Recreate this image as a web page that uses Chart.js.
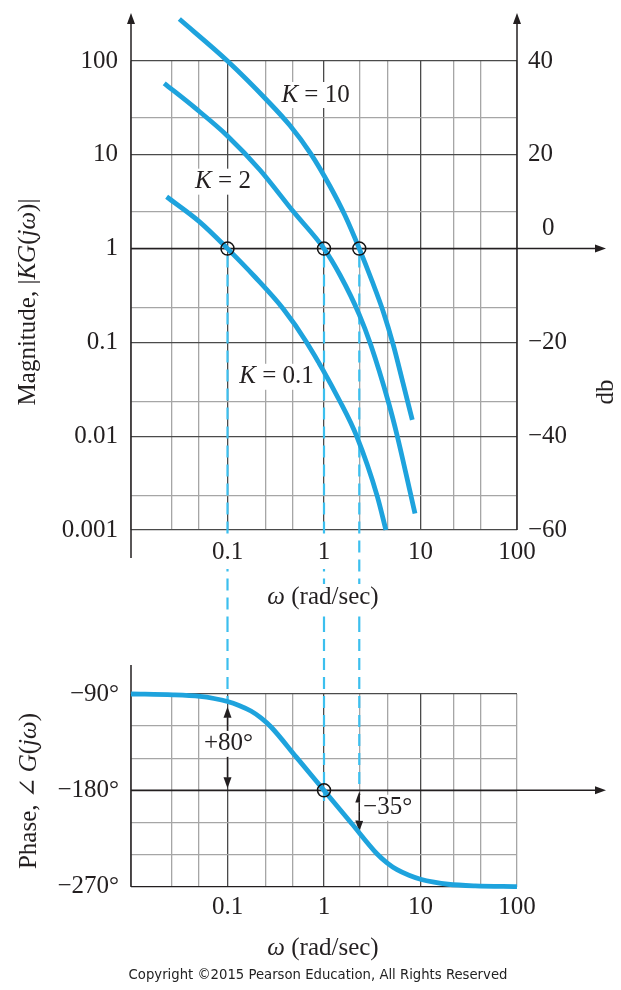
<!DOCTYPE html>
<html>
<head>
<meta charset="utf-8">
<title>Bode plot of KG(jω)</title>
<script src="https://cdn.jsdelivr.net/npm/chart.js@4.4.1/dist/chart.umd.min.js"></script>
<style>
  html, body { margin: 0; padding: 0; background: #fff; }
  #wrap { position: relative; width: 621px; height: 990px; overflow: hidden; }
  canvas { position: absolute; left: 0; }
  #mag { top: 0; }
  #phase { top: 620px; }
</style>
</head>
<body>
<div id="wrap">
  <canvas id="mag" width="621" height="620"></canvas>
  <canvas id="phase" width="621" height="370"></canvas>
</div>
<script>
// ω grid (rad/sec) - where the vertical rules sit in the figure
const wGrid = [0.01, 0.0264, 0.0507, 0.1, 0.249, 0.474, 1, 2.32, 4.53, 10, 22.2, 42, 100];
const wMajor = [0.1, 1, 10];
const wTickVals = [0.1, 1, 10, 100];
const wTickLabels = ["0.1", "1", "10", "100"];

// magnitude axis
const magGrid = [0.001, 0.00232, 0.01, 0.0233, 0.1, 0.237, 1, 2.45, 10, 24.7, 100];
const magTickVals = [0.001, 0.01, 0.1, 1, 10, 100];
const magTickLabels = ["0.001", "0.01", "0.1", "1", "10", "100"];
const dbTickVals = [-60, -40, -20, 20, 40]; // "0" is set apart above the arrow
const dbTickLabels = ["−60", "−40", "−20", "20", "40"];

// |KG(jω)|
const k10W = [0.0317, 0.1, 0.255, 0.444, 0.728, 1.154, 1.651, 2.32, 3.14, 4.12, 5.22, 6.58, 8.22];
const k10Mag = [280, 100, 38.4, 20.5, 10.3, 4.62, 2.25, 1, 0.454, 0.211, 0.094, 0.037, 0.0149];
const k2W = [0.0221, 0.0461, 0.1, 0.217, 0.481, 1, 1.465, 2.32, 3.05, 4.64, 5.75, 7.98, 8.77];
const k2Mag = [57.8, 31.6, 15.9, 6.89, 2.48, 1, 0.523, 0.198, 0.0943, 0.0233, 0.01, 0.0023, 0.0015];
const k01W = [0.0234, 0.0507, 0.1, 0.193, 0.379, 0.662, 1.47, 2.18, 3.56, 4.38];
const k01Mag = [3.57, 1.95, 1, 0.498, 0.227, 0.1, 0.0233, 0.01, 0.0023, 0.001];

// unity-gain crossings and where their dashed drop lines stop on the phase plot
const crossW = [0.1, 1, 2.32];
const crossMag = [1, 1, 1];
const dropPhaseEnd = [-97, -190, -180];

// phase of G(jω)
const phaseW = [0.01, 0.0272, 0.0519, 0.0724, 0.1, 0.1316, 0.175, 0.2223, 0.2829, 0.5167, 1,
  1.935, 3.535, 4.498, 5.714, 7.6, 10, 13.8, 19.3, 36.8, 100];
const phaseDeg = [-90, -90.8, -92.3, -94.2, -97, -100.7, -105.9, -112.3, -120.8, -149, -180,
  -211, -239.2, -247.7, -254.1, -259.3, -263, -265.8, -267.7, -269.2, -270];
const phaseTickVals = [-270, -180, -90];
const phaseTickLabels = ["−270°", "−180°", "−90°"];
const phaseCrossW = [1];
const phaseCrossDeg = [-180];

// phase margins
const marginW = [0.1, 2.32];
const marginFrom = [-102, -181];
const marginTo = [-178, -218.5];
const marginText = ["+80°", "−35°"];

const SERIF = '"Liberation Serif", "Times New Roman", "DejaVu Serif", serif';
const INK = "#231f20";
const CURVE = "#1ea3dd";
const DASH = "#3cbfee";
const MAJOR = "#4a4a4a";
const MINOR = "#a6a6a6";
const FS = 25;

const pts = (xs, ys) => xs.map((v, i) => ({ x: v, y: ys[i] }));
const lookup = (vals, labels) => (v) => {
  const i = vals.findIndex((t) => Math.abs(t - v) < 1e-9);
  return i < 0 ? "" : labels[i];
};

function drawRich(ctx, parts, x, y, align, bg) {
  ctx.save();
  ctx.textBaseline = "middle";
  ctx.textAlign = "left";
  const fonts = parts.map((p) => (p[1] ? "italic " : "") + FS + "px " + SERIF);
  const widths = parts.map((p, i) => {
    ctx.font = fonts[i];
    return ctx.measureText(p[0]).width;
  });
  const total = widths.reduce((a, b) => a + b, 0);
  let sx = align === "center" ? x - total / 2 : align === "right" ? x - total : x;
  if (bg) {
    ctx.fillStyle = "#fff";
    ctx.fillRect(sx - 3, y - 13, total + 6, 26);
  }
  ctx.fillStyle = INK;
  parts.forEach((p, i) => {
    ctx.font = fonts[i];
    ctx.fillText(p[0], sx, y);
    sx += widths[i];
  });
  ctx.restore();
}

function arrow(ctx, x0, y0, x1, y1, head) {
  const ang = Math.atan2(y1 - y0, x1 - x0);
  const L = 11, W = 4;
  const bx = x1 - L * Math.cos(ang), by = y1 - L * Math.sin(ang);
  ctx.save();
  ctx.strokeStyle = INK;
  ctx.fillStyle = INK;
  ctx.lineWidth = 1.5;
  ctx.beginPath();
  ctx.moveTo(x0, y0);
  ctx.lineTo(head ? bx : x1, head ? by : y1);
  ctx.stroke();
  if (head) {
    ctx.beginPath();
    ctx.moveTo(x1, y1);
    ctx.lineTo(bx + W * Math.sin(ang), by - W * Math.cos(ang));
    ctx.lineTo(bx - W * Math.sin(ang), by + W * Math.cos(ang));
    ctx.closePath();
    ctx.fill();
  }
  ctx.restore();
}

function dashed(ctx, px, y0, y1) {
  ctx.save();
  ctx.strokeStyle = DASH;
  ctx.lineWidth = 2.2;
  ctx.setLineDash([12, 7]);
  ctx.beginPath();
  ctx.moveTo(px, y0);
  ctx.lineTo(px, y1);
  ctx.stroke();
  ctx.restore();
}

const tickFont = { family: SERIF, size: FS };

function wAxis(height, pad, backdrop) {
  return {
    type: "logarithmic",
    min: 0.01,
    max: 100,
    afterBuildTicks: (s) => { s.ticks = wGrid.map((v) => ({ value: v })); },
    afterFit: (s) => { s.height = height; },
    border: { display: false },
    grid: {
      drawTicks: false,
      lineWidth: 1.3,
      color: (c) => (c.tick && wMajor.includes(c.tick.value) ? MAJOR : MINOR),
    },
    ticks: {
      z: 1,
      autoSkip: false,
      maxRotation: 0,
      minRotation: 0,
      padding: pad,
      color: INK,
      font: tickFont,
      callback: lookup(wTickVals, wTickLabels),
      showLabelBackdrop: (c) => backdrop && c.tick && wTickVals.includes(c.tick.value),
      backdropColor: "#fff",
      backdropPadding: 2,
    },
  };
}

const magDecor = {
  id: "magDecor",
  beforeDatasetsDraw(chart) {
    const { ctx, chartArea: a, scales: { x, y } } = chart;
    crossW.forEach((w, i) => {
      dashed(ctx, x.getPixelForValue(w), y.getPixelForValue(crossMag[i]) + 7, chart.height);
    });
    const y1 = y.getPixelForValue(1);
    arrow(ctx, a.left, a.bottom + 28, a.left, 13, true);
    arrow(ctx, a.right, a.bottom, a.right, 13, true);
    arrow(ctx, a.left, y1, 606, y1, true);
  },
  afterDraw(chart) {
    const { ctx, scales: { x, y } } = chart;
    drawRich(ctx, [["K", true], [" = 10", false]], x.getPixelForValue(0.817), y.getPixelForValue(43.4), "center", true);
    drawRich(ctx, [["K", true], [" = 2", false]], x.getPixelForValue(0.0898), y.getPixelForValue(5.17), "center", true);
    drawRich(ctx, [["K", true], [" = 0.1", false]], x.getPixelForValue(0.322), y.getPixelForValue(0.043), "center", true);
    drawRich(ctx, [["0", false]], 542, 228, "left", false);
    drawRich(ctx, [["ω", true], [" (rad/sec)", false]], 323, 597, "center", true);

    ctx.save();
    ctx.translate(28, 302);
    ctx.rotate(-Math.PI / 2);
    drawRich(ctx, [["Magnitude, |", false], ["KG", true], ["(", false], ["jω", true], [")|", false]], 0, 0, "center", false);
    ctx.restore();

    ctx.save();
    ctx.translate(606, 392);
    ctx.rotate(-Math.PI / 2);
    drawRich(ctx, [["db", false]], 0, 0, "center", false);
    ctx.restore();
  },
};

const curve = (label, data) => ({
  label,
  data,
  borderColor: CURVE,
  borderWidth: 4.8,
  pointRadius: 0,
  cubicInterpolationMode: "monotone",
  capBezierPoints: false,
  clip: false,
  order: 1,
});

const ring = (data) => ({
  label: "crossing",
  data,
  showLine: false,
  pointRadius: 6.5,
  pointBorderWidth: 1.5,
  pointBorderColor: "#111",
  pointBackgroundColor: "rgba(0,0,0,0)",
  clip: false,
  order: 0,
});

new Chart(document.getElementById("mag"), {
  type: "line",
  data: {
    datasets: [
      ring(pts(crossW, crossMag)),
      curve("K = 10", pts(k10W, k10Mag)),
      curve("K = 2", pts(k2W, k2Mag)),
      curve("K = 0.1", pts(k01W, k01Mag)),
    ],
  },
  options: {
    responsive: false,
    animation: false,
    events: [],
    layout: { padding: { top: 61, left: 0, right: 0, bottom: 0 } },
    plugins: { legend: { display: false }, tooltip: { enabled: false } },
    scales: {
      x: wAxis(90, 7, true),
      y: {
        type: "logarithmic",
        position: "left",
        min: 0.001,
        max: 100,
        afterBuildTicks: (s) => { s.ticks = magGrid.map((v) => ({ value: v })); },
        afterFit: (s) => { s.width = 131; },
        border: { display: false },
        grid: {
          drawTicks: false,
          lineWidth: 1.3,
          color: (c) => {
            const v = c.tick && c.tick.value;
            if (v === 1) return INK;
            return magTickVals.includes(v) ? MAJOR : MINOR;
          },
        },
        ticks: { autoSkip: false, padding: 13, color: INK, font: tickFont, callback: lookup(magTickVals, magTickLabels) },
      },
      db: {
        type: "linear",
        position: "right",
        min: -60,
        max: 40,
        afterFit: (s) => { s.width = 104; },
        border: { display: false },
        grid: { display: false, drawTicks: false },
        ticks: { stepSize: 20, autoSkip: false, padding: 11, color: INK, font: tickFont, callback: lookup(dbTickVals, dbTickLabels) },
      },
    },
  },
  plugins: [magDecor],
});

const phaseDecor = {
  id: "phaseDecor",
  beforeDatasetsDraw(chart) {
    const { ctx, chartArea: a, scales: { x, y } } = chart;
    crossW.forEach((w, i) => {
      dashed(ctx, x.getPixelForValue(w), 0, y.getPixelForValue(dropPhaseEnd[i]));
    });
    const y180 = y.getPixelForValue(-180);
    arrow(ctx, a.left, 45, a.left, a.bottom, false);
    arrow(ctx, a.left, y180, 606, y180, true);
    marginW.forEach((w, i) => {
      const px = x.getPixelForValue(w);
      const p0 = y.getPixelForValue(marginFrom[i]);
      const p1 = y.getPixelForValue(marginTo[i]);
      const mid = (p0 + p1) / 2;
      arrow(ctx, px, mid, px, p0, true);
      arrow(ctx, px, mid, px, p1, true);
    });
  },
  afterDraw(chart) {
    const { ctx, scales: { x, y } } = chart;
    drawRich(ctx, [[marginText[0], false]], x.getPixelForValue(0.1) + 1, y.getPixelForValue(-136.6), "center", true);
    drawRich(ctx, [[marginText[1], false]], x.getPixelForValue(2.54), y.getPixelForValue(-196.3), "left", true);
    drawRich(ctx, [["ω", true], [" (rad/sec)", false]], 323, 328, "center", false);

    ctx.save();
    ctx.translate(29, 171);
    ctx.rotate(-Math.PI / 2);
    drawRich(ctx, [["Phase, ∠\u2009", false], ["G", true], ["(", false], ["jω", true], [")", false]], 0, 0, "center", false);
    ctx.restore();

    // credit line, fitted to the width it takes in the figure
    const note = "Copyright ©2015 Pearson Education, All Rights Reserved";
    ctx.save();
    ctx.font = '13px "DejaVu Sans", Verdana, sans-serif';
    const size = 13 * 379 / ctx.measureText(note).width;
    ctx.font = size.toFixed(2) + 'px "DejaVu Sans", Verdana, sans-serif';
    ctx.fillStyle = "#222";
    ctx.textAlign = "center";
    ctx.textBaseline = "middle";
    ctx.fillText(note, 318, 356);
    ctx.restore();
  },
};

new Chart(document.getElementById("phase"), {
  type: "line",
  data: {
    datasets: [
      ring(pts(phaseCrossW, phaseCrossDeg)),
      curve("phase", pts(phaseW, phaseDeg)),
    ],
  },
  options: {
    responsive: false,
    animation: false,
    events: [],
    layout: { padding: { top: 74, left: 0, right: 104, bottom: 0 } },
    plugins: { legend: { display: false }, tooltip: { enabled: false } },
    scales: {
      x: wAxis(103.3, 6, false),
      y: {
        type: "linear",
        min: -270,
        max: -90,
        afterFit: (s) => { s.width = 131; },
        border: { display: false },
        grid: {
          drawTicks: false,
          lineWidth: 1.3,
          color: (c) => {
            const v = c.tick && c.tick.value;
            if (v === -180 || v === -270) return INK;
            return v === -90 ? MAJOR : MINOR;
          },
        },
        ticks: { stepSize: 30, autoSkip: false, padding: 12, color: INK, font: tickFont, callback: lookup(phaseTickVals, phaseTickLabels) },
      },
    },
  },
  plugins: [phaseDecor],
});
</script>
</body>
</html>
